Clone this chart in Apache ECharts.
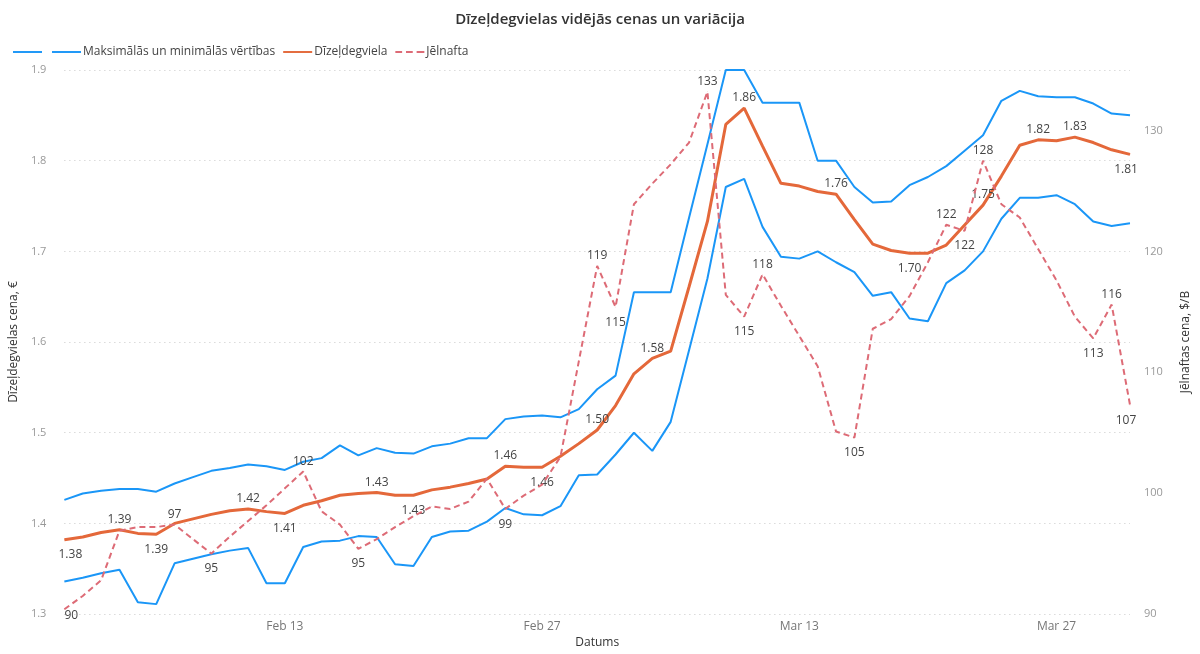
<!DOCTYPE html>
<html>
<head>
<meta charset="utf-8">
<script src="https://cdn.jsdelivr.net/npm/echarts@6/dist/echarts.min.js"></script>
<style>
html,body{margin:0;padding:0;background:#fff;}
#chart{width:1200px;height:654px;}
</style>
</head>
<body>
<div id="chart"></div>
<script>
// Data: daily from 2022-02-01 to 2022-03-31
const startDate = '2022-02-01';
const dayCount = 59;
const tickDates = ['Feb 13', 'Feb 27', 'Mar 13', 'Mar 27'];

const maxVals = [1.426,1.433,1.436,1.438,1.438,1.435,1.444,1.451,1.458,1.461,
  1.465,1.463,1.459,1.468,1.472,1.486,1.475,1.483,1.478,1.477,
  1.485,1.488,1.494,1.494,1.515,1.518,1.519,1.517,1.526,1.548,
  1.563,1.655,1.655,1.655,1.737,1.818,1.900,1.900,1.864,1.864,
  1.864,1.800,1.800,1.771,1.754,1.755,1.773,1.782,1.794,1.811,
  1.828,1.866,1.877,1.871,1.870,1.870,1.863,1.852,1.850];

const minVals = [1.336,1.340,1.345,1.349,1.313,1.311,1.356,1.361,1.366,1.370,
  1.373,1.334,1.334,1.374,1.380,1.381,1.386,1.385,1.355,1.353,
  1.385,1.391,1.392,1.402,1.417,1.410,1.409,1.419,1.453,1.454,
  1.476,1.500,1.480,1.512,1.591,1.670,1.771,1.780,1.727,1.694,
  1.692,1.700,1.688,1.677,1.651,1.655,1.626,1.623,1.665,1.679,
  1.700,1.736,1.759,1.759,1.762,1.752,1.733,1.728,1.731];

const avgVals = [1.382,1.385,1.390,1.393,1.389,1.388,1.400,1.405,1.410,1.414,
  1.416,1.413,1.411,1.420,1.425,1.431,1.433,1.434,1.431,1.431,
  1.437,1.440,1.444,1.449,1.463,1.462,1.462,1.474,1.488,1.503,
  1.530,1.565,1.582,1.590,1.661,1.733,1.840,1.858,1.816,1.775,
  1.772,1.766,1.763,1.735,1.708,1.701,1.698,1.698,1.707,1.729,
  1.751,1.783,1.817,1.823,1.822,1.826,1.820,1.812,1.807];

const oilVals = [90.4,91.5,92.8,96.9,97.2,97.2,97.4,96.2,95.0,96.4,
  97.7,99.0,100.4,101.8,98.5,97.4,95.4,96.2,97.2,98.1,
  98.9,98.7,99.3,101.2,98.7,99.8,100.7,103.0,110.9,118.8,
  115.4,123.9,125.6,127.2,129.0,133.2,116.4,114.6,118.1,115.5,
  113.0,110.5,105.1,104.6,113.6,114.4,116.3,119.1,122.2,121.7,
  127.5,123.9,122.8,120.2,117.6,114.6,112.8,115.6,107.3];

// label placement (index -> position)
const avgLabels = {0:'bottom',3:'top',5:'bottom',10:'top',12:'bottom',17:'top',19:'bottom',
  24:'top',26:'bottom',29:'top',32:'top',37:'top',42:'top',46:'bottom',50:'top',53:'top',55:'top',58:'bottom'};
const oilLabels = {0:'bottom',6:'top',8:'bottom',13:'top',16:'bottom',24:'bottom',29:'top',30:'bottom',
  35:'top',37:'bottom',38:'top',43:'bottom',48:'top',49:'bottom',50:'top',56:'bottom',57:'top',58:'bottom'};

const monthNames = ['Jan','Feb','Mar','Apr'];
const categories = [];
(function(){
  const d0 = new Date(startDate + 'T00:00:00Z');
  for (let i = 0; i < dayCount; i++) {
    const d = new Date(d0.getTime() + i * 86400000);
    categories.push(d.toISOString().slice(0,10));
  }
})();
function fmtDate(s){
  const d = new Date(s + 'T00:00:00Z');
  return monthNames[d.getUTCMonth()] + ' ' + d.getUTCDate();
}

const FONT = '"Open Sans", "Noto Sans", sans-serif';
const BLUE = '#1A96F7';
const ORANGE = '#E4683A';
const PINK = '#DD6B76';

function withLabels(vals, map, fmt, extra){
  return vals.map((v,i) => map[i] ? {value:v, label:Object.assign({
    show:true, position:map[i], distance: map[i] === 'bottom' ? 9 : 4,
    formatter: () => fmt(v)}, (extra && extra[i]) || {})} : v);
}
const avgExtra = {0:{offset:[6,0]}, 58:{offset:[-4,0]}};
const oilExtra = {0:{offset:[7,-9]}, 58:{offset:[-4,0]}};

const SOLID_ICON = 'path://M0,0h30v2h-30z';
const DASH_ICON = 'path://M0,0h7v2h-7z M11,0h7v2h-7z M22,0h8v2h-8z';

const chart = echarts.init(document.getElementById('chart'));
chart.setOption({
  animation:false,
  textStyle:{fontFamily:FONT},
  title:{
    text:'Dīzeļdegvielas vidējās cenas un variācija',
    left:'center', top:7,
    textStyle:{fontFamily:FONT, fontSize:15, fontWeight:600, color:'#333'}
  },
  legend:{
    left:8, top:41,
    itemWidth:29, itemHeight:2, itemGap:8,
    textStyle:{fontFamily:FONT, fontSize:12, color:'#444', padding:[0,0,0,-3]},
    data:[
      {name:'\u200b', icon:SOLID_ICON},
      {name:'Maksimālās un minimālās vērtības', icon:SOLID_ICON},
      {name:'Dīzeļdegviela', icon:SOLID_ICON},
      {name:'Jēlnafta', icon:DASH_ICON}
    ]
  },
  grid:{left:63, right:67, top:70, bottom:33},
  xAxis:{
    type:'category', data:categories, boundaryGap:false,
    name:'Datums', nameLocation:'middle', nameGap:22,
    nameTextStyle:{fontFamily:FONT, fontSize:12, color:'#333'},
    axisLine:{show:false}, axisTick:{show:false},
    axisLabel:{
      interval:(idx) => tickDates.indexOf(fmtDate(categories[idx])) >= 0,
      formatter:(v) => fmtDate(v),
      color:'#777', fontSize:12, margin:6, fontFamily:FONT
    },
    splitLine:{show:false}
  },
  yAxis:[{
    type:'value', min:1.3, max:1.9, interval:0.1,
    name:'Dīzeļdegvielas cena, €', nameLocation:'middle', nameGap:40, nameRotate:90,
    nameTextStyle:{fontFamily:FONT, fontSize:12, color:'#333'},
    axisLine:{show:false}, axisTick:{show:false},
    axisLabel:{formatter:(v)=>v.toFixed(1), color:'#999', fontSize:11, margin:18, fontFamily:FONT},
    splitLine:{lineStyle:{type:[1,4], color:'#c8c8c8', width:1}}
  },{
    type:'value', min:90, max:135, interval:10,
    name:'Jēlnaftas cena, $/B', nameLocation:'middle', nameGap:50, nameRotate:90,
    nameTextStyle:{fontFamily:FONT, fontSize:12, color:'#333'},
    axisLine:{show:false}, axisTick:{show:false},
    axisLabel:{showMaxLabel:false, color:'#999', fontSize:11, margin:14, fontFamily:FONT},
    splitLine:{show:false}
  }],
  series:[{
    name:'\u200b', type:'line', data:maxVals, yAxisIndex:0,
    symbol:'none', lineStyle:{color:BLUE, width:2}, itemStyle:{color:BLUE}, z:2
  },{
    name:'Maksimālās un minimālās vērtības', type:'line', data:minVals, yAxisIndex:0,
    symbol:'none', lineStyle:{color:BLUE, width:2}, itemStyle:{color:BLUE}, z:2
  },{
    name:'Dīzeļdegviela', type:'line', yAxisIndex:0,
    data:withLabels(avgVals, avgLabels, v=>v.toFixed(2), avgExtra),
    symbol:'circle', symbolSize:0.5, showSymbol:true, showAllSymbol:true,
    lineStyle:{color:ORANGE, width:3}, itemStyle:{color:ORANGE}, z:3,
    label:{show:false, color:'#444', fontSize:12, fontFamily:FONT}
  },{
    name:'Jēlnafta', type:'line', yAxisIndex:1,
    data:withLabels(oilVals, oilLabels, v=>String(Math.round(v)), oilExtra),
    symbol:'circle', symbolSize:0.5, showSymbol:true, showAllSymbol:true,
    lineStyle:{color:PINK, width:2, type:[6,4]}, itemStyle:{color:PINK}, z:4,
    label:{show:false, color:'#444', fontSize:12, fontFamily:FONT}
  }]
});
</script>
</body>
</html>
